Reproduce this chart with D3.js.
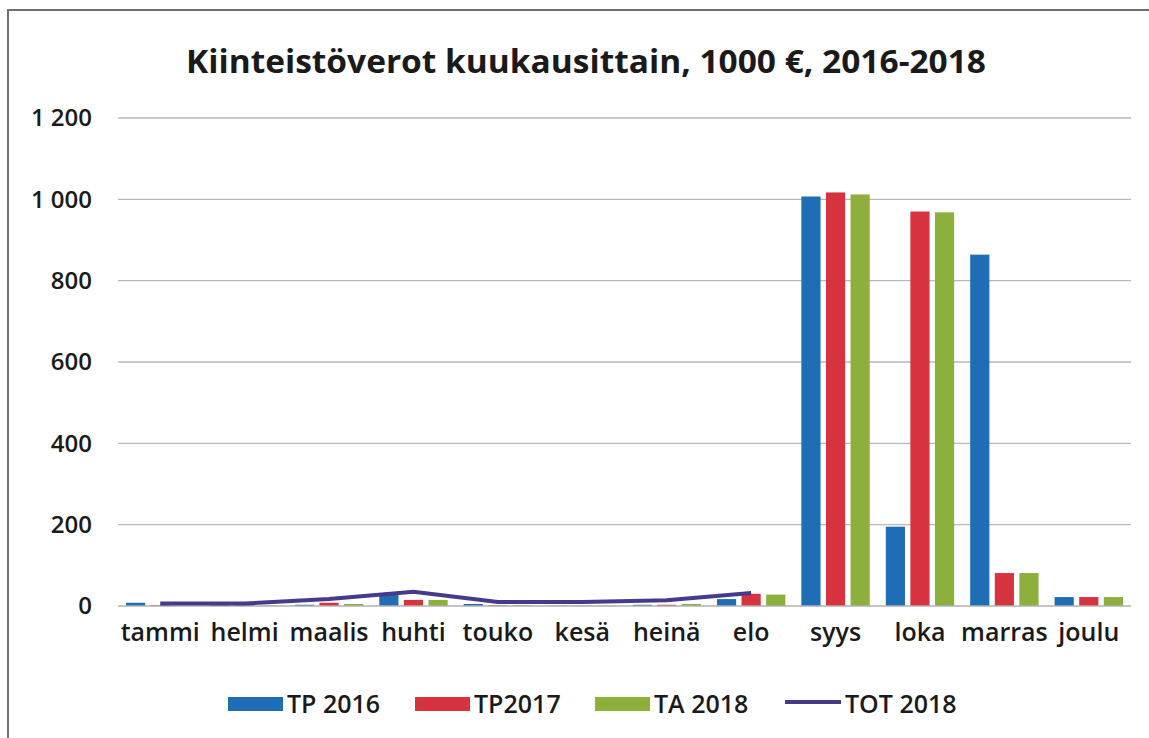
<!DOCTYPE html>
<html>
<head>
<meta charset="utf-8">
<script src="https://cdn.jsdelivr.net/npm/d3@7"></script>
<style>
  body { margin: 0; background: #fff; }
  svg text { font-family: "Open Sans", Lato, sans-serif; fill: #1a1a1a; }
</style>
</head>
<body>
<svg id="chart" width="1149" height="738"></svg>
<script>
var months = ["tammi", "helmi", "maalis", "huhti", "touko", "kesä", "heinä", "elo", "syys", "loka", "marras", "joulu"];
var tp2016 = [8, 2, 3, 27, 5, 1, 3, 17, 1007, 195, 864, 22];
var tp2017 = [2, 2, 8, 15, 2, 1, 3, 30, 1017, 970, 81, 22];
var ta2018 = [0, 1, 5, 15, 2, 1, 5, 28, 1012, 968, 81, 22];
var tot2018 = [6, 6, 17, 35, 10, 10, 14, 32];
var yTicks = [0, 200, 400, 600, 800, 1000, 1200];

var barSeries = [
  { name: "TP 2016", values: tp2016, color: "#1f6db5" },
  { name: "TP2017", values: tp2017, color: "#d7333e" },
  { name: "TA 2018", values: ta2018, color: "#8cb03b" }
];

var svg = d3.select("#chart"),
    margin = { left: 118, right: 18, top: 118, bottom: 132 },
    width = +svg.attr("width") - margin.left - margin.right,
    height = +svg.attr("height") - margin.top - margin.bottom;

// scanned frame around the chart
svg.append("rect")
  .attr("x", 8).attr("y", 10)
  .attr("width", 1160).attr("height", 760)
  .attr("fill", "none").attr("stroke", "#6f6f6f").attr("stroke-width", 2);

svg.append("text")
  .attr("x", 586).attr("y", 73)
  .attr("text-anchor", "middle")
  .attr("textLength", 800).attr("lengthAdjust", "spacingAndGlyphs")
  .style("font-size", "33px").style("font-weight", "bold")
  .text("Kiinteistöverot kuukausittain, 1000 €, 2016-2018");

var g = svg.append("g").attr("transform", "translate(" + margin.left + "," + margin.top + ")");

var x = d3.scaleBand().domain(months).range([0, width]).paddingInner(0.19).paddingOuter(0.095);
var xOuter = d3.scaleBand().domain(months).range([0, width]);
var xSub = d3.scaleBand().domain(barSeries.map(function(d) { return d.name; }))
  .range([0, x.bandwidth()]).paddingInner(0.22).paddingOuter(0);
var y = d3.scaleLinear().domain([0, 1200]).range([height, 0]);

// gridlines
g.append("g").selectAll("line")
  .data(yTicks.filter(function(d) { return d > 0; }))
  .enter().append("line")
    .attr("x1", 0).attr("x2", width)
    .attr("y1", function(d) { return y(d); }).attr("y2", function(d) { return y(d); })
    .attr("stroke", "#b8b8b8").attr("stroke-width", 1.3);

// y labels
var fmt = function(d) { return d3.format(",")(d).replace(",", " "); };
var yAxis = g.append("g")
  .call(d3.axisLeft(y).tickValues(yTicks).tickFormat(fmt).tickSize(0).tickPadding(26));
yAxis.select(".domain").remove();
yAxis.selectAll("text").style("font-size", "24px").style("font-weight", 600).attr("fill", "#1a1a1a");

// bars
barSeries.forEach(function(s) {
  g.append("g").selectAll("rect")
    .data(s.values)
    .enter().append("rect")
      .attr("x", function(d, i) { return x(months[i]) + xSub(s.name); })
      .attr("width", xSub.bandwidth())
      .attr("y", function(d) { return y(d); })
      .attr("height", function(d) { return y(0) - y(d); })
      .attr("fill", s.color);
});

// zero line
g.append("line")
  .attr("x1", 0).attr("x2", width)
  .attr("y1", y(0)).attr("y2", y(0))
  .attr("stroke", "#b0b0b0").attr("stroke-width", 1.3);

// TOT 2018 line
var line = d3.line()
  .x(function(d, i) { return xOuter(months[i]) + xOuter.bandwidth() / 2; })
  .y(function(d) { return y(d); });
g.append("path")
  .datum(tot2018)
  .attr("d", line)
  .attr("fill", "none").attr("stroke", "#463a8c").attr("stroke-width", 4);

// x labels
var xAxis = g.append("g")
  .attr("transform", "translate(0," + height + ")")
  .call(d3.axisBottom(xOuter).tickSize(0).tickPadding(17));
xAxis.select(".domain").remove();
xAxis.selectAll("text").style("font-size", "25px").style("font-weight", 600).attr("fill", "#1a1a1a");

// legend
var legendItems = [
  { name: "TP 2016", color: "#1f6db5", type: "bar", x: 228 },
  { name: "TP2017", color: "#d7333e", type: "bar", x: 415 },
  { name: "TA 2018", color: "#8cb03b", type: "bar", x: 595 },
  { name: "TOT 2018", color: "#463a8c", type: "line", x: 785 }
];
var legend = svg.append("g").attr("transform", "translate(0,704)");
var li = legend.selectAll("g").data(legendItems).enter().append("g")
  .attr("transform", function(d) { return "translate(" + d.x + ",0)"; });
li.filter(function(d) { return d.type === "bar"; }).append("rect")
  .attr("x", 0).attr("y", -7).attr("width", 55).attr("height", 14)
  .attr("fill", function(d) { return d.color; });
li.filter(function(d) { return d.type === "line"; }).append("line")
  .attr("x1", 0).attr("x2", 56).attr("y1", -2).attr("y2", -2)
  .attr("stroke", function(d) { return d.color; }).attr("stroke-width", 4);
li.append("text")
  .attr("x", function(d) { return d.type === "line" ? 60 : 59; }).attr("y", 9)
  .style("font-size", "25px").style("font-weight", 600)
  .text(function(d) { return d.name; });
</script>
</body>
</html>
